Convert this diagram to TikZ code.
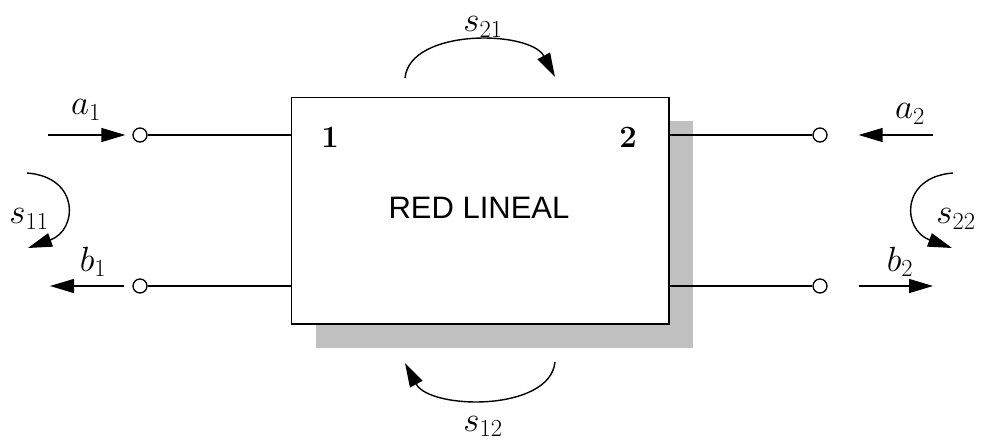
\RequirePackage{fix-cm}
\documentclass[tikz,border=0pt]{standalone}
\usepackage{fontspec}
\newfontfamily\labelfont{Liberation Sans}
\usetikzlibrary{arrows.meta}
\definecolor{shadowgray}{RGB}{192,192,192}
\begin{document}
\begin{tikzpicture}[x=1pt,y=1pt,
  conn/.style={line width=1.4pt},
  sig/.style={line width=1.4pt,-{Triangle[length=24pt,width=14pt]}},
  term/.style={circle,draw,line width=1.3pt,fill=white,minimum size=14pt,inner sep=0pt},
  lab/.style={font=\fontsize{35}{42}\selectfont,inner sep=0pt},
  num/.style={font=\fontsize{31}{37}\selectfont\bfseries,inner sep=0pt},
]
\useasboundingbox (0,0) rectangle (982,440);
% shadow and box
\node[fill=shadowgray, draw=none, minimum width=377.5pt, minimum height=226.5pt, inner sep=0pt] (shadow) at (504.25,205.25) {};
\node[draw, line width=1.8pt, fill=white, minimum width=377.5pt, minimum height=226.5pt, inner sep=0pt] (box) at (480.25,229.25) {};
\node[font=\labelfont\fontsize{31}{37}\selectfont, inner sep=0pt] (title) at (479,232) {RED LINEAL};
\node[num] (p1) at (330,303) {1};
\node[num] (p2) at (628,303) {2};
% terminals
\node[term] (t1) at (140,305) {};
\node[term] (t2) at (140,154) {};
\node[term] (t3) at (820,305) {};
\node[term] (t4) at (820,154) {};
\draw[conn] (t1) -- (t1 -| box.west);
\draw[conn] (t2) -- (t2 -| box.west);
\draw[conn] (t3) -- (t3 -| box.east);
\draw[conn] (t4) -- (t4 -| box.east);
% wave arrows
\coordinate (a1s) at (48,305);
\coordinate (b1e) at (50,154);
\coordinate (a2s) at (933,305);
\coordinate (b2e) at (933,154);
\draw[sig, shorten >=7pt] (a1s) -- (t1);
\draw[sig, shorten <=8pt] (t2) -- (b1e);
\draw[sig, shorten >=31pt] (a2s) -- (t3);
\draw[sig, shorten <=31pt] (t4) -- (b2e);
\node[lab] (la1) at (86,330) {$a_1$};
\node[lab] (lb1) at (93,178) {$b_1$};
\node[lab] (la2) at (910,326) {$a_2$};
\node[lab] (lb2) at (900,178) {$b_2$};
% s-parameter arcs
\coordinate (s11a) at (27,267);
\coordinate (s11b) at (28,192);
\draw[sig] (s11a) .. controls (80,263) and (78,210) .. (s11b);
\coordinate (s22a) at (953,267);
\coordinate (s22b) at (952,192);
\draw[sig] (s22a) .. controls (900,263) and (902,210) .. (s22b);
\coordinate (s21a) at (405,362);
\coordinate (s21b) at (555,363);
\draw[sig] (s21a) .. controls (410,412) and (530,410) .. (s21b);
\coordinate (s12a) at (555,78);
\coordinate (s12b) at (405,77);
\draw[sig] (s12a) .. controls (550,28) and (430,30) .. (s12b);
\node[lab] (ls11) at (29,221) {$s_{11}$};
\node[lab] (ls22) at (956,221) {$s_{22}$};
\node[lab] (ls21) at (483,413) {$s_{21}$};
\node[lab, anchor=south] (ls12) at (483,3) {$s_{12}$};
\end{tikzpicture}
\end{document}
